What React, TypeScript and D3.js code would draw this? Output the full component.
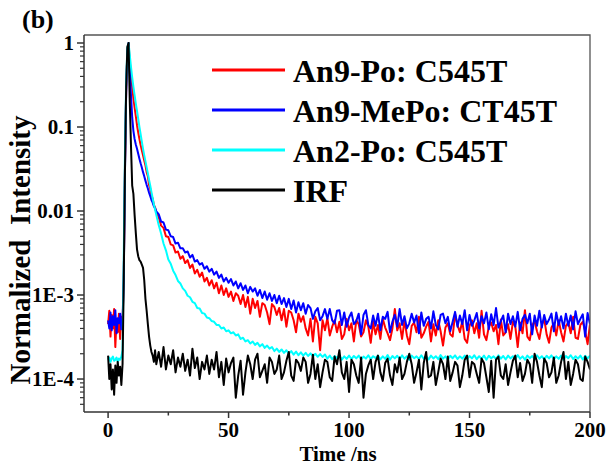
import React from "react";
import * as d3 from "d3";

// sampling grid of the decay traces (ns)
const timeEarly = d3.range(0, 20.5, 0.5); // 0 ... 20 ns
const timeTail = d3.range(21, 201, 1); // 21 ... 200 ns

// normalized intensity, t = 0 ... 20 ns
const an9PoEarly = [
  4.5e-4, 6.5e-4, 3.2e-4, 5.8e-4, 4.0e-4, 6.8e-4, 2.4e-4, 5.2e-4, 3.6e-4, 6.0e-4, 3.0e-4, 5.5e-4, 4.2e-4,
  1.8e-3, 0.035, 0.28, 0.82, 1.0, 0.6, 0.42, 0.3, 0.22, 0.17, 0.135, 0.105, 0.086, 0.072, 0.061, 0.053,
  0.046, 0.04, 0.035, 0.029, 0.026, 0.0205, 0.0185, 0.0152, 0.014, 0.0118, 0.011, 0.0096,
];
const an9MePoEarly = [
  5.0e-4, 4.0e-4, 6.2e-4, 3.8e-4, 5.6e-4, 4.4e-4, 6.6e-4, 3.5e-4, 5.3e-4, 4.6e-4, 6.0e-4, 3.9e-4, 5.0e-4,
  1.6e-3, 0.03, 0.26, 0.8, 1.0, 0.45, 0.24, 0.13, 0.09, 0.072, 0.062, 0.055, 0.048, 0.042, 0.037, 0.033,
  0.029, 0.026, 0.023, 0.0205, 0.0185, 0.0165, 0.015, 0.0135, 0.0126, 0.0114, 0.0108, 0.0099,
];
const an2PoEarly = [
  1.7e-4, 1.8e-4, 1.6e-4, 1.75e-4, 1.85e-4, 1.65e-4, 1.7e-4, 1.8e-4, 1.6e-4, 1.75e-4, 1.7e-4, 1.85e-4, 2.2e-4,
  3e-3, 0.05, 0.35, 0.88, 1.0, 0.72, 0.52, 0.39, 0.3, 0.24, 0.19, 0.155, 0.125, 0.1, 0.082, 0.067,
  0.055, 0.046, 0.039, 0.033, 0.028, 0.0235, 0.02, 0.0168, 0.0142, 0.012, 0.0104, 0.009,
];
const irfEarly = [
  1.9e-4, 1.0e-4, 1.5e-4, 0.75e-4, 1.3e-4, 0.65e-4, 1.45e-4, 0.9e-4, 1.6e-4, 1.1e-4, 1.4e-4, 0.85e-4, 1.5e-4,
  1.5e-3, 0.03, 0.3, 0.9, 1.0, 0.2, 0.06, 0.02, 0.016, 0.009, 0.0055, 0.0035, 0.0029, 0.0026, 0.0025, 0.0023,
  0.0021, 0.0015, 0.0009, 0.00065, 0.00045, 0.00032, 0.00025, 0.00021, 0.00019, 0.00016, 0.00022, 0.00015,
];

// tails, t = 21 ... 200 ns, in units of 1e-4
const TAIL_UNIT = 1e-4;
const an9PoTail = [
  85, 67, 63, 50, 49, 40, 39, 32, 33, 27,
  29, 24, 26, 21, 23, 18, 20, 16.5, 18.5, 14.5,
  16, 13, 15, 12, 14, 10.5, 13, 10, 12, 9.5,
  11, 8.5, 10.5, 9.8, 7.8, 10, 7.2, 9.5, 6, 9,
  7, 8.5, 5.5, 8, 7.6, 6.2, 4.5, 7.8, 7.2, 5.8,
  7, 5, 6.8, 4.2, 6.5, 6.2, 5, 3.6, 6, 4.8,
  5.6, 4, 3.3, 5.2, 2.8, 5.5, 4.6, 2.2, 5, 3.8,
  5.3, 3.3, 4.2, 5, 3.6, 4.8, 3, 3.4, 5.2, 3.8,
  4.6, 2.8, 5, 4.5, 3.2, 3.6, 5, 4.2, 2.7, 4.8,
  3.4, 4.4, 3, 5.2, 4.1, 3.5, 2.9, 4, 6.8, 3.8,
  4.6, 3, 5, 3.3, 2.6, 4.3, 4.7, 3.6, 5.5, 3.1,
  3.5, 4.2, 4.8, 2.8, 4.5, 3.3, 5, 3.7, 2.5, 4.1,
  4.6, 3.4, 3.2, 6, 4.4, 3.6, 4.9, 3, 2.7, 4.3,
  5, 3.5, 4.6, 3.1, 6.5, 3.4, 2.9, 4.2, 4.7, 3.7,
  4.4, 2.6, 5.1, 3.3, 3.6, 4.5, 3, 4.8, 4.2, 2.4,
  4.7, 3.5, 6.6, 3.2, 2.9, 4.3, 4.9, 3.7, 3, 4.4,
  5.2, 3.4, 2.7, 4.1, 4.6, 3.3, 5, 3.6, 2.8, 4.3,
  4.7, 3.5, 5.5, 3.1, 3, 4.4, 4.8, 3.7, 2.6, 4.5,
];
const an9MePoTail = [
  92, 75, 73, 60, 59, 50, 49, 41, 42, 36,
  36, 32, 33, 28, 30, 25, 26, 23, 24, 20.5,
  22, 19, 20.5, 17.5, 19, 16, 17.5, 14.5, 16, 14,
  15.5, 13, 14.5, 12, 13.8, 11.5, 13, 10.5, 12.5, 11,
  12, 9.8, 11.5, 9.2, 11, 8.8, 10.5, 8.5, 10, 8,
  9.8, 7.8, 9.2, 7.2, 9, 6.8, 8.6, 6.2, 8.2, 6.6,
  8, 6, 7.6, 7, 5.2, 6.4, 7, 5, 5.6, 6.8,
  5.2, 6.8, 5, 4.6, 6.5, 6.6, 4.4, 6.2, 4.2, 5.4,
  6.2, 4.5, 4.9, 6, 3.4, 5.8, 6.6, 4.4, 4, 5.7,
  4.3, 6, 3.8, 5.5, 5.2, 6.3, 3.6, 4.8, 5.8, 4.2,
  6.8, 4.4, 5.6, 4, 4.6, 6, 4.7, 5.7, 3.5, 6.2,
  4.3, 5.2, 5.5, 4, 6.4, 4.4, 3.9, 5.8, 6, 4.6,
  5.5, 3.7, 4.8, 6.3, 4.2, 5.7, 4.5, 6.6, 3.8, 5.8,
  4.3, 5, 6.1, 4, 5.6, 4.6, 6.2, 3.9, 5.9, 4.4,
  7, 4.1, 4.9, 5.7, 3.6, 6, 4.5, 5.6, 4.2, 6.3,
  3.8, 5.2, 5.8, 4.6, 6, 3.4, 5.7, 4.3, 6.5, 4.1,
  5.8, 4.5, 5.1, 6, 3.7, 6.2, 4.4, 5.6, 4, 6,
  4.3, 5.7, 3.9, 6.4, 4.5, 5.2, 5.9, 3.2, 6.1, 4.5,
];
const an2PoTail = [
  68, 54, 41, 34, 26.5, 23.5, 19.5, 17.3, 14.7, 13.7,
  12, 11.2, 9.8, 9.4, 8.3, 8, 7, 6.9, 6.1, 6,
  5.4, 5.3, 4.9, 4.8, 4.4, 4.4, 4, 4.1, 3.7, 3.8,
  3.5, 3.6, 3.3, 3.4, 3, 3.1, 2.8, 2.9, 2.65, 2.8,
  2.55, 2.7, 2.45, 2.6, 2.35, 2.5, 2.3, 2.4, 2.15, 2.3,
  2.1, 2.25, 2.05, 2.2, 2, 2.15, 1.95, 2.12, 1.92, 2.08,
  1.9, 2.05, 1.88, 2.02, 1.86, 2, 1.84, 1.98, 1.83, 1.96,
  1.75, 1.9, 1.72, 1.88, 1.78, 1.92, 1.7, 1.86, 1.74, 1.9,
  1.73, 1.88, 1.76, 1.9, 1.7, 1.85, 1.75, 1.92, 1.72, 1.87,
  1.78, 1.9, 1.71, 1.86, 1.74, 1.93, 1.7, 1.88, 1.76, 1.89,
  1.72, 1.91, 1.75, 1.87, 1.7, 1.9, 1.77, 1.86, 1.73, 1.92,
  1.74, 1.88, 1.71, 1.9, 1.76, 1.87, 1.72, 1.93, 1.75, 1.86,
  1.7, 1.89, 1.77, 1.91, 1.73, 1.86, 1.75, 1.9, 1.71, 1.88,
  1.76, 1.92, 1.72, 1.87, 1.74, 1.9, 1.7, 1.89, 1.77, 1.86,
  1.73, 1.91, 1.75, 1.88, 1.71, 1.9, 1.76, 1.87, 1.72, 1.93,
  1.74, 1.86, 1.7, 1.9, 1.77, 1.88, 1.73, 1.92, 1.75, 1.87,
  1.71, 1.89, 1.76, 1.91, 1.72, 1.86, 1.74, 1.9, 1.7, 1.88,
  1.77, 1.92, 1.73, 1.87, 1.75, 1.9, 1.71, 1.89, 1.76, 1.9,
];
const irfTail = [
  2.1, 1.4, 2.4, 1.3, 1.9, 1.5, 2.2, 1.2, 1.8, 1.4,
  2, 1.25, 1.7, 1.1, 2.3, 1.35, 1.8, 1, 1.6, 1.3,
  1.9, 1.15, 1.7, 1.3, 2.1, 1.05, 1.6, 0.85, 1.75, 1.2,
  1.55, 1.8, 0.6, 1.1, 1.65, 0.65, 1.2, 1.9, 1.5, 1,
  1.7, 2, 1.05, 1.25, 1.5, 0.9, 1.8, 1.6, 1.15, 1.3,
  1.9, 1, 1.2, 1.65, 2.1, 1.1, 0.95, 1.7, 1.55, 1.25,
  1.8, 1.6, 0.9, 1.15, 1.95, 1, 1.5, 0.8, 1.2, 1.7,
  1.6, 1.05, 0.95, 1.85, 1.5, 2.2, 1.2, 1, 1.6, 0.7,
  1.7, 1.5, 1.1, 0.9, 1.8, 0.6, 1.15, 1.45, 1.7, 1,
  1.6, 1.9, 1.2, 0.95, 1.55, 1.75, 1.1, 0.85, 1.5, 1.2,
  1.8, 1, 1.15, 1.6, 2, 1.5, 0.9, 1.2, 1.7, 0.75,
  1.55, 2.1, 1.05, 1.1, 1.6, 0.85, 1.2, 1.75, 1.5, 1,
  1.85, 0.95, 1.2, 1.6, 1.45, 0.8, 1.1, 1.7, 1.9, 1.05,
  1.6, 1.5, 1.15, 0.9, 1.75, 1.55, 1.05, 0.7, 1.65, 0.6,
  1.7, 1.85, 1.1, 1, 1.5, 0.85, 1.2, 1.65, 1.9, 1.05,
  1.55, 0.95, 1.15, 1.7, 1.5, 0.9, 2, 1.6, 1.1, 0.8,
  1.75, 1.55, 1.05, 1.2, 1.8, 0.9, 1.1, 1.6, 2.1, 1,
  1.6, 0.85, 1.15, 1.7, 1.5, 1, 0.95, 1.85, 1.6, 1.3,
];

const seriesNames = ["An9-Po: C545T", "An9-MePo: CT45T", "An2-Po: C545T", "IRF"];
const seriesColors = ["#ff0000", "#0000ff", "#00ffff", "#000000"];
const seriesEarly = [an9PoEarly, an9MePoEarly, an2PoEarly, irfEarly];
const seriesTail = [an9PoTail, an9MePoTail, an2PoTail, irfTail];

const xTicks = [0, 50, 100, 150, 200];
const xMinorTicks = [25, 75, 125, 175];
const yTicks = [1, 0.1, 0.01, 1e-3, 1e-4];
const yTickLabels = ["1", "0.1", "0.01", "1E-3", "1E-4"];

const W = 608;
const H = 466;
const margin = { top: 35, right: 18, bottom: 54, left: 84 };
const FONT = "'Liberation Serif', 'Times New Roman', serif";

export default function App() {
  const x = d3.scaleLinear().domain([-10, 200]).range([margin.left, W - margin.right]);
  const y = d3.scaleLog().domain([4.05e-5, 1.245]).range([H - margin.bottom, margin.top]);
  const x0 = margin.left;
  const x1 = W - margin.right;
  const y0 = H - margin.bottom;
  const y1 = margin.top;

  const times = [...timeEarly, ...timeTail];
  const series = seriesNames.map((name, i) => ({
    name,
    color: seriesColors[i],
    points: times.map((t, j) => ({
      t,
      v: j < timeEarly.length ? seriesEarly[i][j] : seriesTail[i][j - timeEarly.length] * TAIL_UNIT,
    })),
  }));

  const line = d3
    .line<{ t: number; v: number }>()
    .x((d) => x(d.t))
    .y((d) => y(d.v));

  // minor ticks 2..9 of every decade inside the domain
  const yMinor: number[] = [];
  for (let e = -5; e <= 0; e++) {
    for (let k = 2; k <= 9; k++) {
      const v = k * Math.pow(10, e);
      if (v >= 4.05e-5 && v <= 1.245) yMinor.push(v);
    }
  }

  return (
    <svg
      width={W}
      height={H}
      style={{ position: "absolute", left: 0, top: 0, background: "#fff" }}
      fontFamily={FONT}
      fontWeight="bold"
    >
      <defs>
        <clipPath id="plot-clip">
          <rect x={x0} y={y1} width={x1 - x0} height={y0 - y1} />
        </clipPath>
      </defs>

      <text x={22} y={28} fontSize={26}>(b)</text>

      {/* traces */}
      <g clipPath="url(#plot-clip)">
        {series.map((s) => (
          <path
            key={s.name}
            d={line(s.points) || ""}
            fill="none"
            stroke={s.color}
            strokeWidth={2}
            strokeLinejoin="round"
          />
        ))}
      </g>

      {/* frame */}
      <path d={`M${x0},${y1}H${x1}V${y0}`} fill="none" stroke="#555" strokeWidth={1.3} />
      <line x1={x0} x2={x1} y1={y0} y2={y0} stroke="#333" strokeWidth={1.5} />
      <line x1={x0} x2={x0} y1={y1} y2={y0} stroke="#333" strokeWidth={1.5} />

      {/* x axis */}
      {xTicks.map((t) => (
        <g key={t}>
          <line x1={x(t)} x2={x(t)} y1={y0} y2={y0 + 6} stroke="#333" strokeWidth={1.5} />
          <text x={x(t)} y={y0 + 25} textAnchor="middle" fontSize={21}>{t}</text>
        </g>
      ))}
      {xMinorTicks.map((t) => (
        <line key={t} x1={x(t)} x2={x(t)} y1={y0} y2={y0 + 3.5} stroke="#333" strokeWidth={1.5} />
      ))}
      <text x={338} y={460.5} textAnchor="middle" fontSize={21}>Time /ns</text>

      {/* y axis */}
      {yTicks.map((v, i) => (
        <g key={v}>
          <line x1={x0 - 7} x2={x0} y1={y(v)} y2={y(v)} stroke="#333" strokeWidth={1.5} />
          <text x={x0 - 10} y={y(v)} dy="0.35em" textAnchor="end" fontSize={21}>{yTickLabels[i]}</text>
        </g>
      ))}
      {yMinor.map((v) => (
        <line key={v} x1={x0 - 4} x2={x0} y1={y(v)} y2={y(v)} stroke="#333" strokeWidth={1.2} />
      ))}
      <text
        transform={`translate(30,250) rotate(-90)`}
        textAnchor="middle"
        fontSize={29}
        style={{ whiteSpace: "pre" }}
      >
        {"Normalized  Intensity"}
      </text>

      {/* legend */}
      {series.map((s, i) => (
        <g key={s.name} transform={`translate(212,${70 + i * 40})`}>
          <line x1={0} x2={73} y1={0} y2={0} stroke={s.color} strokeWidth={3} />
          <text x={81} y={12} fontSize={32}>{s.name}</text>
        </g>
      ))}
    </svg>
  );
}
